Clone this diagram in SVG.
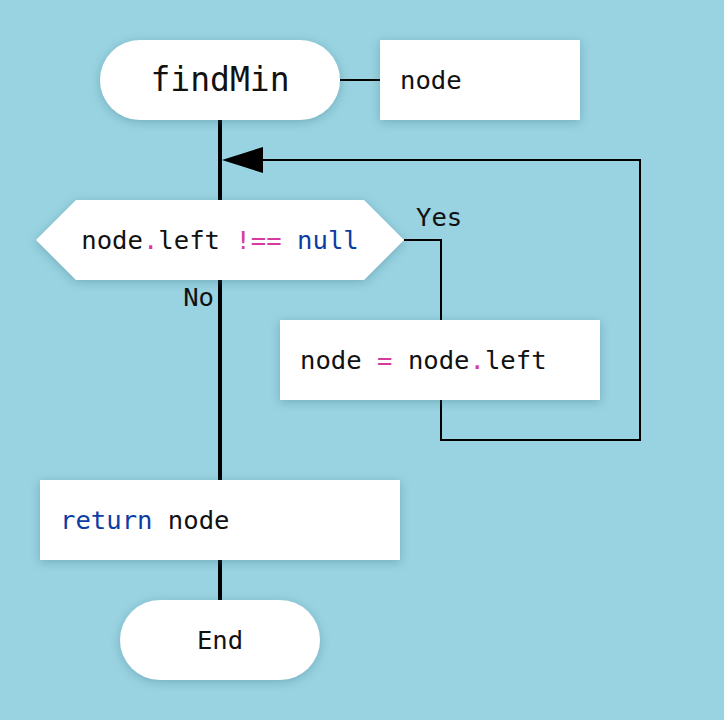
<svg xmlns="http://www.w3.org/2000/svg" width="724" height="720" viewBox="0 0 724 720">
<style>
.bg{fill:#99d2e0}
.node{fill:#ffffff;filter:url(#sh)}
.t{font-family:"DejaVu Sans Mono","Liberation Mono",monospace;font-size:25.6px;fill:#111111}
.big{font-size:33px}
.op{fill:#d63a9e}
.kw{fill:#0d3ca3}
.thick{stroke:#000;stroke-width:4;fill:none}
.thin{stroke:#000;stroke-width:2;fill:none}
</style>
<defs>
<filter id="sh" x="-20%" y="-40%" width="140%" height="180%">
<feDropShadow dx="0" dy="2" stdDeviation="5" flood-color="#2a6a80" flood-opacity="0.35"/>
</filter>
</defs>
<rect class="bg" x="0" y="0" width="724" height="720"/>
<g id="connectors">
<line class="thick" x1="220" y1="120" x2="220" y2="600"/>
<line class="thin" x1="340" y1="80" x2="380" y2="80"/>
<polyline class="thin" points="404,240 441,240 441,320"/>
<polyline class="thin" points="441,400 441,440 640,440 640,160 262,160"/>
<polygon points="222,160 263,147 263,173" fill="#000"/>
</g>
<text class="t" x="416" y="226">Yes</text>
<text class="t" x="214" y="306" text-anchor="end">No</text>
<g id="start">
<rect class="node" x="100" y="40" width="240" height="80" rx="40" ry="40"/>
<text class="t big" x="220" y="91" text-anchor="middle">findMin</text>
</g>
<g id="param">
<rect class="node" x="380" y="40" width="200" height="80"/>
<text class="t" x="400" y="89">node</text>
</g>
<g id="decision">
<polygon class="node" points="36,240 76,200 364,200 404,240 364,280 76,280"/>
<text class="t" x="220" y="249" text-anchor="middle">node<tspan class="op">.</tspan>left <tspan class="op">!==</tspan> <tspan class="kw">null</tspan></text>
</g>
<g id="assign">
<rect class="node" x="280" y="320" width="320" height="80"/>
<text class="t" x="300" y="369">node <tspan class="op">=</tspan> node<tspan class="op">.</tspan>left</text>
</g>
<g id="return">
<rect class="node" x="40" y="480" width="360" height="80"/>
<text class="t" x="60" y="529"><tspan class="kw">return</tspan> node</text>
</g>
<g id="end">
<rect class="node" x="120" y="600" width="200" height="80" rx="40" ry="40"/>
<text class="t" x="220" y="649" text-anchor="middle">End</text>
</g>
</svg>
